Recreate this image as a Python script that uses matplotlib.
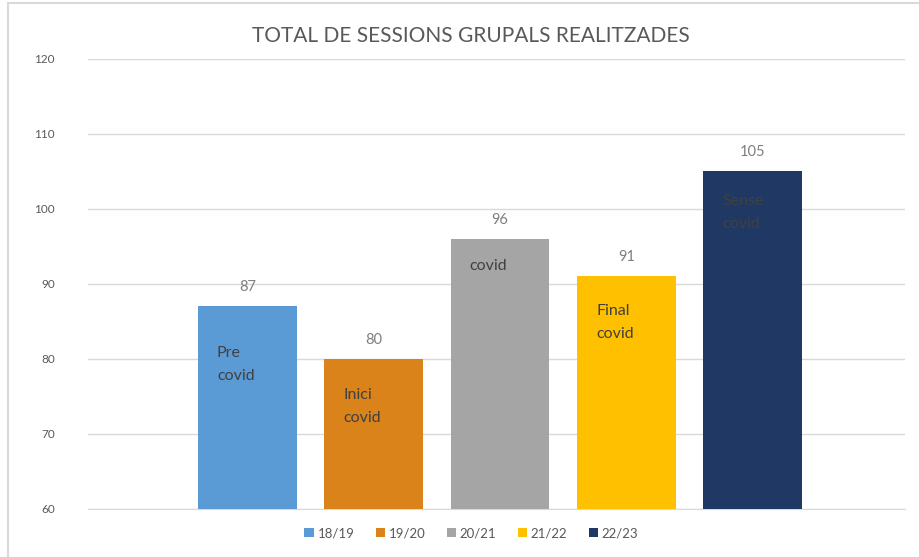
import matplotlib.pyplot as plt
from matplotlib.patches import Rectangle

# dades
cursos = ['18/19', '19/20', '20/21', '21/22', '22/23']
sessions = [87, 80, 96, 91, 105]
etiquetes = ['Pre\ncovid', 'Inici\ncovid', 'covid', 'Final\ncovid', 'Sense\ncovid']
etiqueta_y = [79.3, 73.7, 92.4, 84.9, 99.5]
colors = ['#5B9BD5', '#D9831A', '#A5A5A5', '#FFC000', '#203864']

plt.rcParams['font.family'] = ['Lato', 'DejaVu Sans']

fig = plt.figure(figsize=(9.19, 5.57), dpi=100)
ax = fig.add_axes([0.0958, 0.0862, 0.889, 0.808])

# marc del gràfic
fig.patches.append(Rectangle((8 / 919, -0.1), 1.2, 1.1 - 3 / 557,
                             transform=fig.transFigure, fill=False,
                             edgecolor='#d9d9d9', linewidth=1.5))

x = list(range(len(cursos)))
for i in x:
    ax.bar(i, sessions[i], width=0.78, color=colors[i], label=cursos[i], zorder=3)
    ax.annotate(str(sessions[i]), (i, sessions[i]), xytext=(0, 14),
                textcoords='offset points', ha='center', va='center',
                fontsize=10.5, color='#7f7f7f')
    ax.text(i - 0.24, etiqueta_y[i], etiquetes[i], ha='left', va='center',
            fontsize=11.5, color='#404040', linespacing=1.85, zorder=4)

ax.set_ylim(60, 120)
ax.set_xlim(-1.26, 5.205)
ax.set_yticks(range(60, 121, 10))
ax.set_xticks([])
ax.yaxis.grid(True, color='#d9d9d9', linewidth=1, zorder=0)
for s in ['top', 'right', 'left']:
    ax.spines[s].set_visible(False)
ax.spines['bottom'].set_color('#d9d9d9')
ax.tick_params(axis='y', length=0, pad=24, labelsize=8.5, labelcolor='#595959')

fig.text(0.512, 0.935, 'TOTAL DE SESSIONS GRUPALS REALITZADES', ha='center', va='center',
         fontsize=15, color='#595959')

fig.legend(loc='center', bbox_to_anchor=(0.513, 0.043), ncol=5, frameon=False,
           fontsize=9.5, handlelength=0.7, handleheight=0.7, handletextpad=0.3,
           columnspacing=1.6, labelcolor='#595959')

fig.savefig('out.png', dpi=100)
